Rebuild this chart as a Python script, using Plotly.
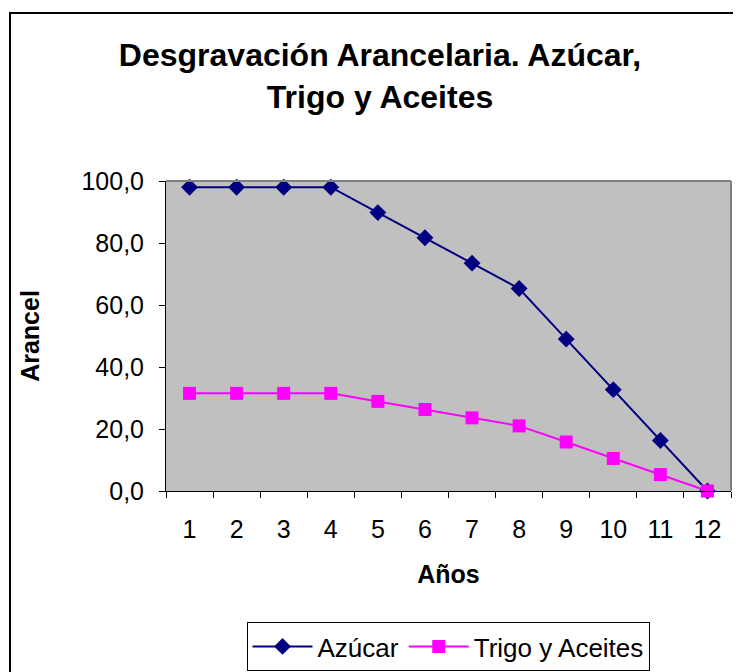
import plotly.graph_objects as go

years = ["1", "2", "3", "4", "5", "6", "7", "8", "9", "10", "11", "12"]
azucar = [98.0, 98.0, 98.0, 98.0, 89.8, 81.7, 73.5, 65.3, 49.0, 32.7, 16.3, 0.0]
trigo = [31.5, 31.5, 31.5, 31.5, 28.9, 26.3, 23.6, 21.0, 15.8, 10.5, 5.3, 0.0]

# page body adds an 8px margin, so the figure is drawn 8px in from the window edge
OFF = 8
W, H = 741 - OFF, 672 - OFF
L, R, T, B = 166 - OFF, 731 - OFF, 181 - OFF, 491 - OFF


def px(x):
    return (x - OFF - L) / (R - L)


def py(y):
    return (B - (y - OFF)) / (B - T)


fig = go.Figure()
fig.add_trace(go.Scatter(
    x=years, y=azucar, name="Azúcar", mode="lines+markers",
    line=dict(color="#000080", width=2),
    marker=dict(symbol="diamond", size=13, color="#000080"),
    cliponaxis=False,
))
fig.add_trace(go.Scatter(
    x=years, y=trigo, name="Trigo y Aceites", mode="lines+markers",
    line=dict(color="#FF00FF", width=2),
    marker=dict(symbol="square", size=13, color="#FF00FF"),
    cliponaxis=False,
))

font = "Liberation Sans, Arial, sans-serif"

fig.update_layout(
    width=W, height=H,
    margin=dict(l=L, r=W - R, t=T, b=H - B, autoexpand=False),
    paper_bgcolor="white",
    plot_bgcolor="#C0C0C0",
    separators=",.",
    font=dict(family=font, size=25, color="black"),
    showlegend=True,
    legend=dict(
        orientation="h", x=(448 - OFF) / W, xanchor="center", xref="container",
        y=1 - (622 - OFF) / H, yanchor="top", yref="container",
        bordercolor="black", borderwidth=1, bgcolor="white",
        font=dict(size=26), itemwidth=60, tracegroupgap=0,
    ),
    title=dict(
        text="<b>Desgravación Arancelaria. Azúcar,<br>Trigo y Aceites</b>",
        x=(380 - OFF) / W, xanchor="center", xref="container",
        y=1 - (66 - OFF) / H, yanchor="top", yref="container",
        font=dict(size=32, family=font),
    ),
    xaxis=dict(
        type="category", range=[-0.5, 11.5], tickson="boundaries",
        ticks="outside", ticklen=6,
        tickcolor="black", showline=True, linecolor="black", linewidth=1,
        showgrid=False, zeroline=False, mirror=False, ticklabelstandoff=16,
        title=dict(text="<b>Años</b>", font=dict(size=25), standoff=23),
        tickfont=dict(size=25),
    ),
    yaxis=dict(
        range=[0, 100], dtick=20, tickformat=".1f", ticks="outside", ticklen=6,
        tickcolor="black", showline=True, linecolor="black", linewidth=1,
        showgrid=False, zeroline=False, ticklabelstandoff=10,
        title=dict(text="<b>Arancel</b>", font=dict(size=25), standoff=34),
        tickfont=dict(size=25),
    ),
    shapes=[
        dict(type="rect", xref="paper", yref="paper",
             x0=px(10), y0=py(720), x1=px(780), y1=py(13),
             line=dict(color="black", width=2), layer="below"),
        dict(type="line", xref="paper", yref="paper",
             x0=0, y0=1, x1=1, y1=1, line=dict(color="#808080", width=2)),
        dict(type="line", xref="paper", yref="paper",
             x0=1, y0=0, x1=1, y1=1, line=dict(color="#808080", width=2)),
    ],
)

fig.write_html("out.html")
